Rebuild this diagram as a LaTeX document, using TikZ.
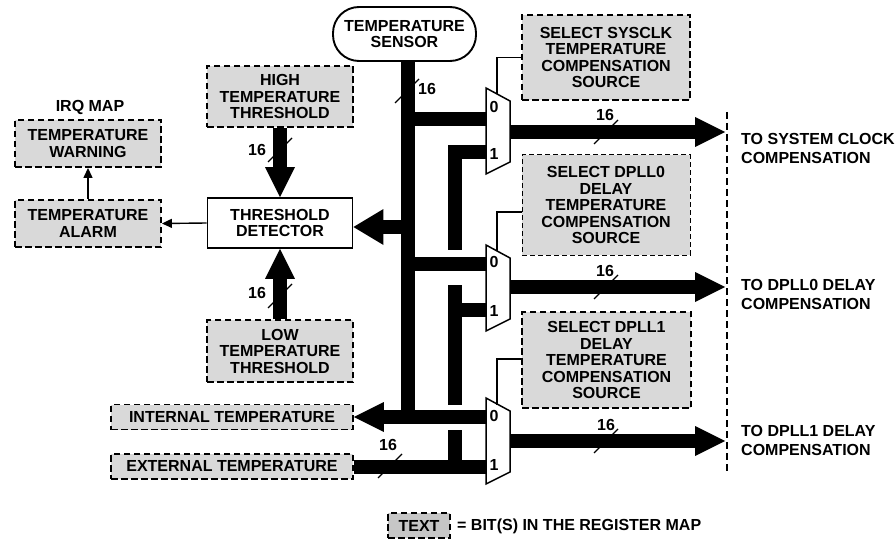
\documentclass[tikz,border=0pt]{standalone}
\usepackage{fontspec}
\setmainfont{Liberation Sans}
\usetikzlibrary{arrows.meta,calc}
\definecolor{regfill}{HTML}{D9D9D9}
\definecolor{legfill}{HTML}{C6C6C6}
\begin{document}
\begin{tikzpicture}[x=1pt,y=-1pt,
  font=\fontsize{16}{16.5}\selectfont\bfseries,
  reg/.style={draw, dash pattern=on 6.5pt off 3.5pt, fill=regfill, line width=1.9pt, inner sep=0pt, align=center},
  regthin/.style={reg, line width=1pt, dash pattern=on 5pt off 3pt},
  plainbox/.style={draw, fill=white, line width=1.9pt, inner sep=0pt, align=center},
  sensorbox/.style={draw, fill=white, line width=1.9pt, inner sep=0pt, align=center, rounded corners=26pt},
  bus/.style={line width=14pt, line join=miter},
  busarrow/.style={bus, -{Triangle[length=30pt,width=30pt,line width=0pt 0 0]}},
  detarrow/.style={bus, -{Triangle[length=30pt,width=36pt,line width=0pt 0 0]}},
  thinarrow/.style={line width=1.4pt, -{Triangle[length=10pt,width=9pt]}},
  selline/.style={line width=1.3pt},
  slashmark/.style={line width=1.3pt},
  muxshape/.style={draw, fill=white, line width=1.5pt, line join=miter},
  vdash/.style={line width=1.8pt, dash pattern=on 7pt off 4pt},
  rlabel/.style={align=left, inner sep=0pt, font=\fontsize{16}{19}\selectfont\bfseries}
]
\useasboundingbox (0,0) rectangle (896,540);

% ---------------- boxes ----------------
\node[sensorbox, minimum width=143pt, minimum height=54pt] (sensor) at (404.5,34) {TEMPERATURE\\SENSOR};
\node[reg, minimum width=146pt, minimum height=61pt] (high) at (280,96.5) {HIGH\\TEMPERATURE\\THRESHOLD};
\node[plainbox, minimum width=145pt, minimum height=50pt] (det) at (280,223) {THRESHOLD\\DETECTOR};
\node[reg, minimum width=146pt, minimum height=62pt] (low) at (280,351) {LOW\\TEMPERATURE\\THRESHOLD};
\node (irq) at (90,107) {IRQ MAP};
\node[reg, minimum width=146pt, minimum height=47pt] (warn) at (88,143.5) {TEMPERATURE\\WARNING};
\node[reg, minimum width=146pt, minimum height=47pt] (alarm) at (88,223.5) {TEMPERATURE\\ALARM};
\node[reg, minimum width=242pt, minimum height=25pt] (int) at (232,417) {INTERNAL TEMPERATURE};
\node[reg, minimum width=242pt, minimum height=25pt] (ext) at (232,466.5) {EXTERNAL TEMPERATURE};
\node[reg, minimum width=168pt, minimum height=85pt] (selsys) at (606,57.5) {SELECT SYSCLK\\TEMPERATURE\\COMPENSATION\\SOURCE};
\node[regthin, minimum width=168pt, minimum height=100pt] (sel0) at (606,205) {SELECT DPLL0\\DELAY\\TEMPERATURE\\COMPENSATION\\SOURCE};
\node[reg, minimum width=169pt, minimum height=96pt] (sel1) at (606.5,360) {SELECT DPLL1\\DELAY\\TEMPERATURE\\COMPENSATION\\SOURCE};

% ---------------- coordinates ----------------
\coordinate (j1) at (408,119);
\coordinate (jd) at (408,227);
\coordinate (j2) at (408,264);
\coordinate (j3) at (408,417);
\coordinate (m1i0) at (486,119);
\coordinate (m1i1) at (486,152);
\coordinate (m1o) at (510,132);
\coordinate (m2i0) at (486,264);
\coordinate (m2i1) at (486,310);
\coordinate (m2o) at (510,287);
\coordinate (m3i0) at (486,417);
\coordinate (m3i1) at (486,466.5);
\coordinate (m3o) at (510,441);
\coordinate (t1) at (725,132);
\coordinate (t2) at (725,287);
\coordinate (t3) at (725,441);
\coordinate (s1) at (497,94.5);
\coordinate (s2) at (497,250.5);
\coordinate (s3) at (497,404.5);
\coordinate (bA1) at (455,152);
\coordinate (bA2) at (455,250);
\coordinate (bB1) at (455,285);
\coordinate (bB2) at (455,405);
\coordinate (bBj) at (455,310);
\coordinate (bC1) at (455,430);
\coordinate (bC2) at (455,466.5);

% ---------------- buses ----------------
\draw[bus] (sensor.south -| j1) -- (j3) -- (m3i0);
\draw[bus] (j1) -- (m1i0);
\draw[bus] (j2) -- (m2i0);
\draw[detarrow] (jd) -- (det.east |- jd);
\draw[busarrow] (j3) -- (int.east);
\draw[busarrow] (high.south) -- (high.south |- det.north);
\draw[busarrow] (low.north) -- (low.north |- det.south);
\draw[bus] (m1i1) -- (bA1) -- (bA2);
\draw[bus] (bB1) -- (bB2);
\draw[bus] (bBj) -- (m2i1);
\draw[bus] (bC1) -- (bC2);
\draw[bus] (ext.east) -- (m3i1);
\draw[busarrow] (m1o) -- (t1);
\draw[busarrow] (m2o) -- (t2);
\draw[busarrow] (m3o) -- (t3);

% ---------------- muxes ----------------
\draw[muxshape] (486,88) -- (510,101) -- (510,162) -- (486,174) -- cycle;
\draw[muxshape] (486,245) -- (510,258) -- (510,319) -- (486,331) -- cycle;
\draw[muxshape] (486,398) -- (510,411) -- (510,472) -- (486,484) -- cycle;
\node at (494,107) {0};
\node at (494,154) {1};
\node at (494,262) {0};
\node at (494,311) {1};
\node at (494,416) {0};
\node at (494,465) {1};

% ---------------- select lines ----------------
\draw[selline] (selsys.west) -| (s1);
\draw[selline] ($(sel0.west)+(0,7)$) -| (s2);
\draw[selline] ($(sel1.west)+(0,-1)$) -| (s3);

% ---------------- thin arrows ----------------
\draw[thinarrow] (det.west) -- (alarm.east);
\draw[thinarrow] (alarm.north) -- (warn.south);

% ---------------- bus width marks ----------------
\draw[slashmark] (395,103) -- (419,79);
\node at (427,89) {16};
\draw[slashmark] (268,162) -- (292,138);
\node at (257,150) {16};
\draw[slashmark] (268,308) -- (292,284);
\node at (257,293) {16};
\draw[slashmark] (378,478) -- (402,454);
\node at (388,445) {16};
\draw[slashmark] (594,144) -- (618,120);
\node at (605,115) {16};
\draw[slashmark] (594,299) -- (618,275);
\node at (605,271) {16};
\draw[slashmark] (594,453) -- (618,429);
\node at (606,425) {16};

% ---------------- right side ----------------
\draw[vdash] (727,112) -- (727,473);
\node[rlabel, anchor=west] (l1) at (741,148.5) {TO SYSTEM CLOCK\\COMPENSATION};
\node[rlabel, anchor=west] (l2) at (741,294) {TO DPLL0 DELAY\\COMPENSATION};
\node[rlabel, anchor=west] (l3) at (741,440) {TO DPLL1 DELAY\\COMPENSATION};

% ---------------- legend ----------------
\node[reg, fill=legfill, minimum width=62pt, minimum height=25pt] (leg) at (419,525.5) {TEXT};
\node[anchor=west, inner sep=0pt] (legtext) at (457,526) {= BIT(S) IN THE REGISTER MAP};
\end{tikzpicture}
\end{document}
